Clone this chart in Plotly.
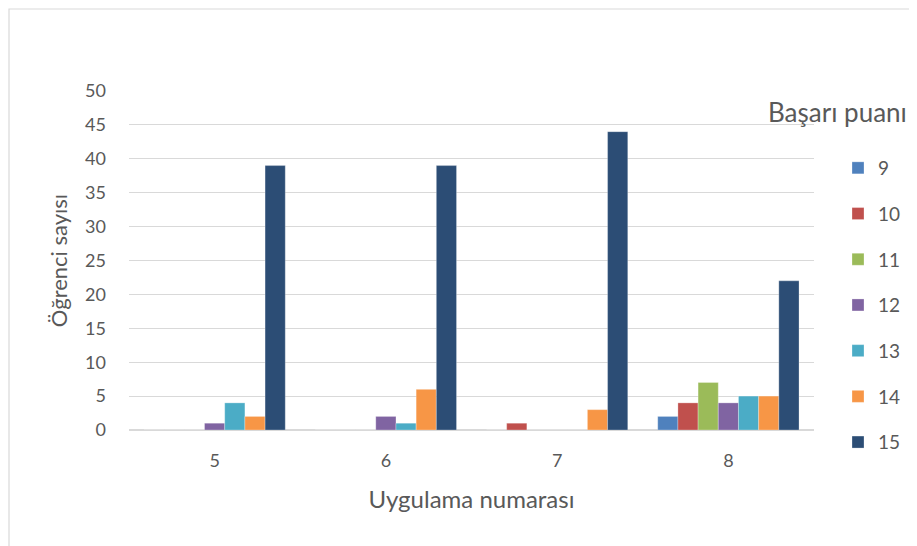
import plotly.graph_objects as go

categories = ["5", "6", "7", "8"]
series_names = ["9", "10", "11", "12", "13", "14", "15"]
s9 = [0, 0, 0, 2]
s10 = [0, 0, 1, 4]
s11 = [0, 0, 0, 7]
s12 = [1, 2, 0, 4]
s13 = [4, 1, 0, 5]
s14 = [2, 6, 3, 5]
s15 = [39, 39, 44, 22]
colors = ["#4F81BD", "#C0504D", "#9BBB59", "#8064A2", "#4BACC6", "#F79646", "#2C4D75"]
y_ticks = [0, 5, 10, 15, 20, 25, 30, 35, 40, 45, 50]

values = [s9, s10, s11, s12, s13, s14, s15]
FONT = "Lato, 'Open Sans', sans-serif"
TXT = "#595959"

fig = go.Figure()
for name, vals, col in zip(series_names, values, colors):
    fig.add_trace(go.Bar(
        x=categories, y=vals, name=name, legendgroup=name,
        marker=dict(color=col, line=dict(color="rgba(255,255,255,0.35)", width=0.8)),
    ))

# page body has an 8px margin; screen coords below are for the screenshot
OFF = 8
W, H = 917, 546
SX0, SX1, SY0, SY1 = 129, 814, 91, 430  # plot area in screen px
L = SX0 - OFF
T = SY0 - OFF
R = W - (SX1 - OFF)
B = H - (SY1 - OFF)
pw, ph = SX1 - SX0, SY1 - SY0

def px_x(p):
    return (p - SX0) / pw

def px_y(p):
    return (SY1 - p) / ph

fig.update_layout(
    width=W, height=H,
    margin=dict(l=L, r=R, t=T, b=B, autoexpand=False),
    paper_bgcolor="white", plot_bgcolor="white",
    barmode="group", bargap=0.175, bargroupgap=0,
    font=dict(family=FONT, color=TXT, size=18),
    showlegend=True,
    legend=dict(
        x=px_x(838), xanchor="left", y=px_y(149), yanchor="top",
        font=dict(family=FONT, size=19, color=TXT),
        tracegroupgap=18, itemwidth=30,
        bgcolor="rgba(0,0,0,0)",
    ),
    xaxis=dict(
        type="category", categoryorder="array", categoryarray=categories,
        showgrid=False, showline=False, ticks="",
        tickfont=dict(size=18, color=TXT), ticklabelstandoff=18,
        title=dict(text="Uygulama numarası", font=dict(size=24, color=TXT), standoff=21),
    ),
    yaxis=dict(
        range=[0, 50], tickvals=y_ticks, showgrid=True, gridcolor="#D9D9D9", gridwidth=1.2,
        zeroline=True, zerolinecolor="#D9D9D9", zerolinewidth=1.5,
        showline=False, ticks="", tickfont=dict(size=18, color=TXT),
        ticklabelstandoff=22,
        title=dict(text="Öğrenci sayısı", font=dict(size=22, color=TXT), standoff=11),
    ),
    annotations=[dict(
        text="Başarı puanı", xref="paper", yref="paper",
        x=px_x(838), y=px_y(112), xanchor="center", yanchor="middle",
        showarrow=False, font=dict(family=FONT, size=26, color=TXT),
    )],
    shapes=[dict(
        type="rect", xref="paper", yref="paper",
        x0=px_x(9), y0=px_y(600), x1=px_x(1000), y1=px_y(9),
        line=dict(color="#D9D9D9", width=1.2), fillcolor="rgba(0,0,0,0)", layer="below",
    )],
)

fig.write_html("out.html")
